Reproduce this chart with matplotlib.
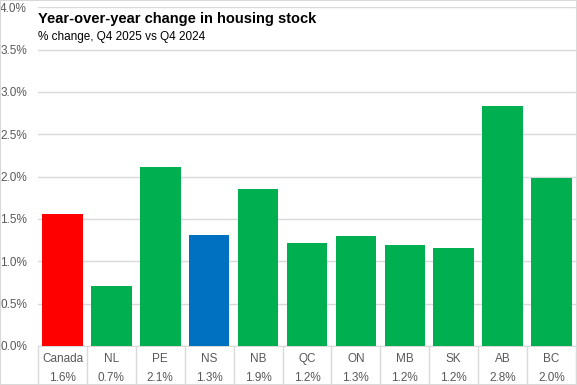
import numpy as np
import matplotlib
matplotlib.use("Agg")
import matplotlib.pyplot as plt
from matplotlib import font_manager
from matplotlib.ticker import FuncFormatter, MultipleLocator

# data
regions = ["Canada", "NL", "PE", "NS", "NB", "QC", "ON", "MB", "SK", "AB", "BC"]
change = [1.56, 0.71, 2.11, 1.31, 1.85, 1.22, 1.30, 1.19, 1.16, 2.83, 1.98]
bar_colors = ["#ff0000", "#00b050", "#00b050", "#0070c0", "#00b050", "#00b050",
              "#00b050", "#00b050", "#00b050", "#00b050", "#00b050"]

# narrow font if there is one, else plain Liberation Sans
names = {f.name for f in font_manager.fontManager.ttflist}
narrow = "Liberation Sans Narrow" in names
base = "Liberation Sans Narrow" if narrow else "Liberation Sans"
plt.rcParams["font.family"] = [base, "DejaVu Sans"]
fs = 9.5 if narrow else 8.5
title_fs = 12 if narrow else 10.5

W, H = 577, 385
fig = plt.figure(figsize=(W / 100, H / 100), dpi=100)
ax = fig.add_axes([38 / W, 39 / H, 538 / W, 338.7 / H])

x = np.arange(len(regions))
ax.bar(x, change, width=0.83, color=bar_colors, zorder=3)

ax.set_xlim(-0.5, len(regions) - 0.5)
ax.set_ylim(0, 4.0)
ax.yaxis.set_major_locator(MultipleLocator(0.5))
ax.yaxis.set_major_formatter(FuncFormatter(lambda v, p: f"{v:.1f}%"))
ax.grid(axis="y", color="#d9d9d9", linewidth=1, zorder=0)

for s in ["top", "right", "left"]:
    ax.spines[s].set_visible(False)
ax.spines["bottom"].set_color("#d9d9d9")

labels = [f"{r}\n{v:.1f}%" for r, v in zip(regions, change)]
ax.set_xticks(x)
ax.set_xticklabels(labels, linespacing=1.75, fontsize=fs, color="#595959")
ax.tick_params(axis="x", which="major", length=0, pad=5)
ax.set_xticks(np.arange(len(regions) + 1) - 0.5, minor=True)
ax.tick_params(axis="x", which="minor", length=29, color="#d9d9d9", width=1)
ax.tick_params(axis="y", length=0, labelsize=fs, labelcolor="#595959", pad=8)

fig.text(38 / W, 1 - 19 / H, "Year-over-year change in housing stock",
         fontsize=title_fs, fontweight="bold", color="#000000", va="center")
fig.text(38 / W, 1 - 37 / H, "% change, Q4 2025 vs Q4 2024",
         fontsize=fs, color="#000000", va="center")

border = plt.Rectangle((0, 0), 1, 1, transform=fig.transFigure, fill=False,
                       edgecolor="#d9d9d9", linewidth=1.5)
fig.patches.append(border)

fig.savefig("out.png", dpi=100)
